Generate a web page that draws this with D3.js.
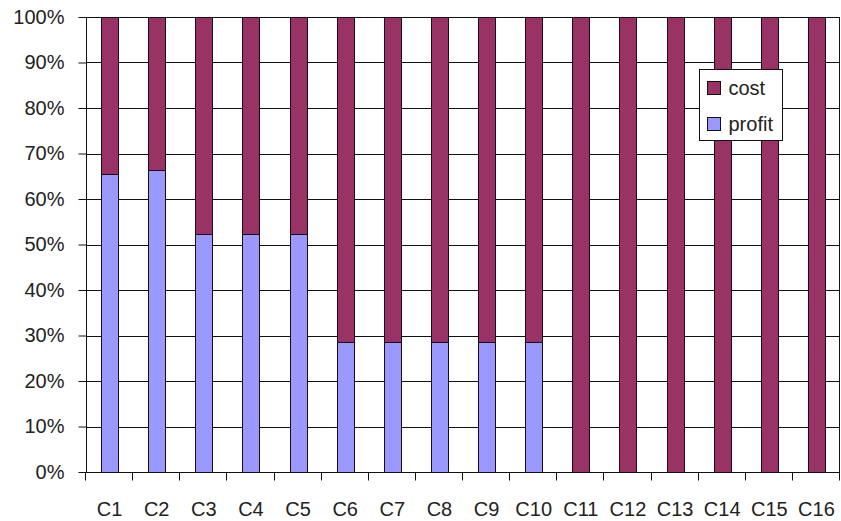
<!DOCTYPE html>
<html>
<head>
<meta charset="utf-8">
<script src="https://cdn.jsdelivr.net/npm/d3@7"></script>
<style>
  html, body { margin: 0; padding: 0; background: #fff; }
  svg { display: block; }
  text { font-family: "Liberation Sans", Arial, sans-serif; fill: #222; }
</style>
</head>
<body>
<svg id="chart" width="841" height="521"></svg>
<script>
// Share of profit and cost per case (percent of total)
const categories = ["C1","C2","C3","C4","C5","C6","C7","C8","C9","C10","C11","C12","C13","C14","C15","C16"];
const profit = [65.5, 66.3, 52.4, 52.4, 52.4, 28.6, 28.6, 28.6, 28.6, 28.6, 0, 0, 0, 0, 0, 0];
const cost   = [34.5, 33.7, 47.6, 47.6, 47.6, 71.4, 71.4, 71.4, 71.4, 71.4, 100, 100, 100, 100, 100, 100];
const seriesNames = ["profit", "cost"];
const yTicks = [0, 10, 20, 30, 40, 50, 60, 70, 80, 90, 100];

const colors = { profit: "#9999ff", cost: "#993366" };

const margin = { left: 86, right: 1, top: 17, bottom: 49 };
const W = 841, H = 521;
const svg = d3.select("#chart");

const x = d3.scaleBand().domain(categories).range([margin.left, W - margin.right]).padding(0);
const y = d3.scaleLinear().domain([0, 100]).range([H - margin.bottom, margin.top]);

const rows = categories.map((c, i) => ({ cat: c, profit: profit[i], cost: cost[i] }));
const stacked = d3.stack().keys(seriesNames).offset(d3.stackOffsetExpand)(rows);

// horizontal gridlines
svg.append("g")
  .selectAll("line")
  .data(yTicks)
  .join("line")
  .attr("x1", margin.left).attr("x2", W - margin.right)
  .attr("y1", d => Math.round(y(d)) + 0.5).attr("y2", d => Math.round(y(d)) + 0.5)
  .attr("stroke", "#111").attr("stroke-width", 1);

// right border of the plot area
svg.append("line")
  .attr("x1", W - margin.right - 0.5).attr("x2", W - margin.right - 0.5)
  .attr("y1", margin.top).attr("y2", H - margin.bottom)
  .attr("stroke", "#111");

// bars
const barW = x.bandwidth() * 0.36;
svg.append("g")
  .selectAll("g")
  .data(stacked)
  .join("g")
  .attr("fill", d => colors[d.key])
  .selectAll("rect")
  .data(d => d)
  .join("rect")
  .attr("x", d => Math.round(x(d.data.cat) + (x.bandwidth() - barW) / 2) + 0.5)
  .attr("width", Math.round(barW))
  .attr("y", d => Math.round(y(d[1] * 100)) + 0.5)
  .attr("height", d => Math.round(y(d[0] * 100)) - Math.round(y(d[1] * 100)))
  .attr("stroke", "#1a0a14").attr("stroke-width", 1);

// y axis
const yAxis = svg.append("g")
  .attr("transform", `translate(${margin.left + 0.5},0)`)
  .call(d3.axisLeft(y).tickValues(yTicks).tickFormat(d => d + "%").tickSize(8).tickPadding(14));
yAxis.select(".domain").attr("stroke", "#111").attr("d", `M0,${margin.top}V${H - margin.bottom}`);
yAxis.selectAll(".tick line").attr("stroke", "#111");
yAxis.selectAll(".tick text").style("font-size", "20px").attr("fill", "#222")
  .attr("font-family", "Liberation Sans, Arial, sans-serif");

// x axis: ticks at category boundaries, labels centered in bands
const xg = svg.append("g").attr("transform", `translate(0,${Math.round(y(0)) + 0.5})`);
const bounds = categories.map(c => x(c)).concat([x.range()[1]]);
xg.selectAll("line.tk")
  .data(bounds)
  .join("line")
  .attr("class", "tk")
  .attr("x1", d => Math.round(d) - 0.5).attr("x2", d => Math.round(d) - 0.5)
  .attr("y1", 0).attr("y2", 8)
  .attr("stroke", "#111");
xg.selectAll("text")
  .data(categories)
  .join("text")
  .attr("x", d => x(d) + x.bandwidth() / 2)
  .attr("y", 43)
  .attr("text-anchor", "middle")
  .style("font-size", "20px")
  .text(d => d);

// legend
const legend = svg.append("g").attr("transform", "translate(699.5,69.5)");
legend.append("rect").attr("width", 83).attr("height", 71)
  .attr("fill", "#fff").attr("stroke", "#111");
["cost", "profit"].forEach((k, i) => {
  const g = legend.append("g").attr("transform", `translate(8,${12 + i * 36})`);
  g.append("rect").attr("width", 13).attr("height", 13)
    .attr("fill", colors[k]).attr("stroke", "#111");
  g.append("text").attr("x", 21).attr("y", 13).style("font-size", "20px").text(k);
});
</script>
</body>
</html>
